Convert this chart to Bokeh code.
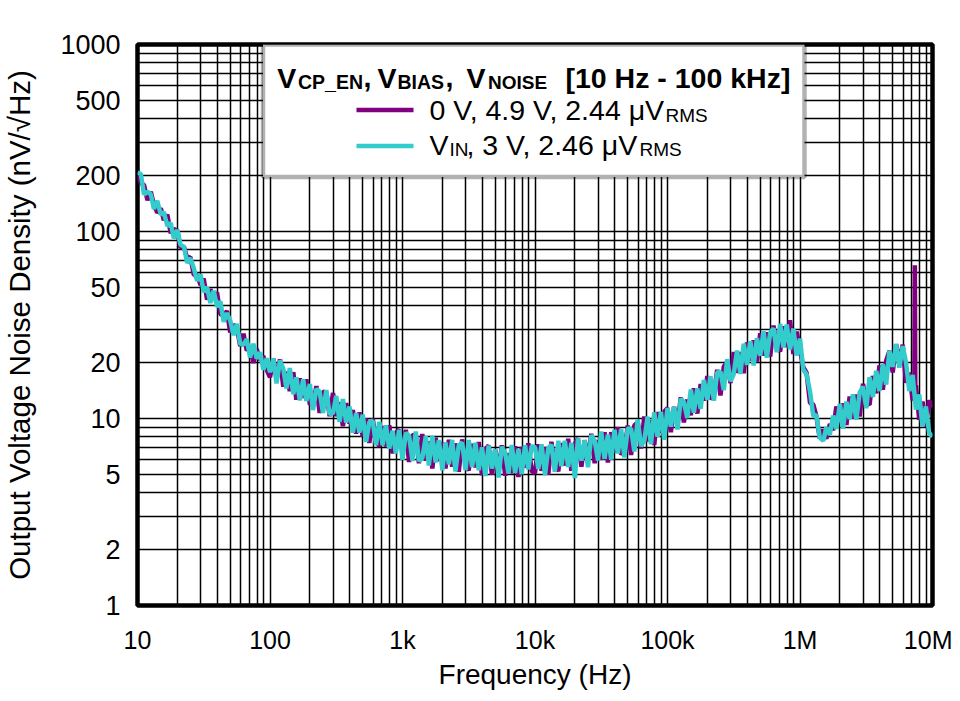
from bokeh.plotting import figure
from bokeh.models import Range1d, FixedTicker, Label, BoxAnnotation
from bokeh.embed import file_html
from bokeh.resources import INLINE

# ---------------- data ----------------
# frequency sample points (Hz), shared by both traces
freq = [
    10.0, 10.6, 11.2, 11.9, 12.6, 13.3, 14.1, 15.0, 15.8, 16.8, 17.8, 18.8, 20.0, 21.1, 22.4, 23.7, 25.1, 26.6, 28.2, 29.9,
    31.6, 33.5, 35.5, 37.6, 39.8, 42.2, 44.7, 47.3, 50.1, 53.1, 56.2, 59.6, 63.1, 66.8, 70.8, 75.0, 79.4, 84.1, 89.1, 94.4,
    100, 106, 112, 119, 126, 133, 141, 150, 158, 168, 178, 188, 200, 211, 224, 237, 251, 266, 282, 299,
    316, 335, 355, 376, 398, 422, 447, 473, 501, 531, 562, 596, 631, 668, 708, 750, 794, 841, 891, 944,
    1.00e3, 1.06e3, 1.12e3, 1.19e3, 1.26e3, 1.33e3, 1.41e3, 1.50e3, 1.58e3, 1.68e3, 1.78e3, 1.88e3, 2.00e3, 2.11e3, 2.24e3, 2.37e3, 2.51e3, 2.66e3, 2.82e3, 2.99e3,
    3.16e3, 3.35e3, 3.55e3, 3.76e3, 3.98e3, 4.22e3, 4.47e3, 4.73e3, 5.01e3, 5.31e3, 5.62e3, 5.96e3, 6.31e3, 6.68e3, 7.08e3, 7.50e3, 7.94e3, 8.41e3, 8.91e3, 9.44e3,
    1.00e4, 1.06e4, 1.12e4, 1.19e4, 1.26e4, 1.33e4, 1.41e4, 1.50e4, 1.58e4, 1.68e4, 1.78e4, 1.88e4, 2.00e4, 2.11e4, 2.24e4, 2.37e4, 2.51e4, 2.66e4, 2.82e4, 2.99e4,
    3.16e4, 3.35e4, 3.55e4, 3.76e4, 3.98e4, 4.22e4, 4.47e4, 4.73e4, 5.01e4, 5.31e4, 5.62e4, 5.96e4, 6.31e4, 6.68e4, 7.08e4, 7.50e4, 7.94e4, 8.41e4, 8.91e4, 9.44e4,
    1.00e5, 1.06e5, 1.12e5, 1.19e5, 1.26e5, 1.33e5, 1.41e5, 1.50e5, 1.58e5, 1.68e5, 1.78e5, 1.88e5, 2.00e5, 2.11e5, 2.24e5, 2.37e5, 2.51e5, 2.66e5, 2.82e5, 2.99e5,
    3.16e5, 3.35e5, 3.55e5, 3.76e5, 3.98e5, 4.22e5, 4.47e5, 4.73e5, 5.01e5, 5.31e5, 5.62e5, 5.96e5, 6.31e5, 6.68e5, 7.08e5, 7.50e5, 7.94e5, 8.41e5, 8.91e5, 9.44e5,
    1.00e6, 1.06e6, 1.12e6, 1.19e6, 1.26e6, 1.33e6, 1.41e6, 1.50e6, 1.58e6, 1.68e6, 1.78e6, 1.88e6, 2.00e6, 2.11e6, 2.24e6, 2.37e6, 2.51e6, 2.66e6, 2.82e6, 2.99e6,
    3.16e6, 3.35e6, 3.55e6, 3.76e6, 3.98e6, 4.22e6, 4.47e6, 4.73e6, 5.01e6, 5.31e6, 5.62e6, 5.96e6, 6.31e6, 6.68e6, 7.08e6, 7.50e6, 7.94e6, 8.41e6, 8.91e6, 9.44e6,
    1.00e7,
]

# Trace A: V_CP_EN = 0 V, V_BIAS = 4.9 V (purple), nV/rtHz
noise_a = [
    200, 182, 177, 147, 163, 139, 126, 133, 115, 123, 98, 103, 101, 82, 83, 72, 73, 58.6, 58.6, 51.8,
    56, 43.2, 49.2, 43.4, 47.3, 36.2, 35.4, 37.6, 28.9, 31.8, 30.5, 24.4, 28.4, 23.1, 24.2, 19.8, 23.6, 20.5, 21.6, 18.2,
    16.6, 20.9, 16.4, 20.7, 14.8, 17.8, 14.0, 17.7, 12.6, 16.4, 12.9, 16.2, 11.9, 11.9, 14.9, 10.7, 13.9, 13.8, 10.3, 13.7,
    10.3, 12.2, 9.1, 12.1, 9.4, 11.1, 8.3, 10.8, 8.0, 10.0, 7.4, 10.0, 7.6, 7.1, 9.1, 7.1, 9.2, 6.5, 8.4, 8.7,
    6.51, 8.70, 5.85, 8.15, 8.19, 5.77, 8.27, 5.95, 7.55, 5.41, 7.88, 5.92, 7.47, 5.41, 7.70, 5.52, 7.36, 5.19, 7.73, 5.71,
    5.27, 7.33, 5.47, 7.49, 4.97, 6.83, 7.17, 5.00, 6.85, 5.23, 7.19, 4.94, 6.53, 5.09, 7.11, 4.87, 7.04, 5.45, 7.37, 5.22,
    5.11, 7.29, 5.25, 7.04, 5.01, 7.51, 5.61, 5.23, 7.39, 5.60, 7.79, 5.25, 7.33, 7.82, 5.52, 7.66, 5.95, 8.29, 5.77, 7.67,
    6.01, 8.43, 5.81, 8.45, 6.59, 8.99, 6.43, 6.68, 9.17, 6.38, 9.17, 9.52, 6.92, 10.24, 7.55, 9.82, 7.22, 10.82, 8.37, 10.87,
    11.37, 8.44, 11.54, 9.37, 12.98, 9.53, 12.64, 10.41, 14.5, 10.62, 15.28, 12.47, 16.87, 12.69, 13.38, 18.21, 13.28, 18.93, 20.06, 15.46,
    22.66, 17.51, 22.66, 17.47, 25.52, 20.43, 26.21, 20.16, 28.54, 21.67, 28.9, 21.48, 31.39, 24.21, 22.85, 31.12, 24.11, 33.5, 22.14, 29.15,
    23.25, 18.8, 17.6, 12.1, 11.87, 10.27, 7.82, 8.72, 7.8, 9.35, 8.65, 11.6, 9.45, 12.04, 9.24, 13.11, 9.98, 13.44, 10.25, 15.34,
    12.15, 11.84, 16.87, 13.64, 19.23, 14.27, 20.35, 22.97, 17.64, 24.98, 20.06, 24.78, 15.54, 17.6, 12.47, 15.08, 9.84, 12.31, 9.0, 12.5,
    11.5,
]
# narrow spur on trace A near 7.4 MHz
spur_freq = [7.30e6, 7.36e6, 7.42e6]
spur_noise = [15.5, 66.0, 14.5]

# Trace B: V_CP_EN = V_IN, V_BIAS = 3 V (cyan), nV/rtHz
noise_b = [
    207, 203, 158, 163, 158, 132, 146, 123, 127, 107, 111, 92, 102, 85, 83, 68, 72, 63.6, 54.5, 58.9,
    47.4, 50.5, 41.5, 48.3, 39.6, 42.3, 32.9, 36.6, 33.4, 27.9, 32.1, 25.1, 24.8, 26.6, 21.2, 25.1, 20.9, 22.6, 18.2, 21.0,
    17.7, 20.9, 15.4, 20.4, 18.5, 14.5, 18.6, 13.5, 16.6, 12.5, 16.2, 12.4, 15.3, 11.1, 14.4, 13.9, 10.7, 14.2, 10.5, 10.7,
    13.2, 9.6, 12.7, 9.5, 11.6, 8.4, 10.7, 8.4, 10.5, 7.5, 9.6, 9.7, 7.2, 9.6, 7.2, 9.2, 6.9, 8.6, 6.5, 8.7,
    6.02, 8.38, 8.10, 5.93, 8.51, 5.92, 6.14, 8.06, 5.60, 8.09, 5.82, 7.67, 5.29, 7.44, 5.69, 7.67, 5.21, 7.18, 7.44, 5.29,
    7.67, 5.51, 7.41, 5.29, 7.02, 4.93, 7.17, 5.40, 6.85, 4.83, 7.06, 6.53, 5.08, 7.21, 5.12, 6.87, 5.03, 7.20, 5.34, 7.12,
    7.02, 5.38, 7.29, 4.99, 6.94, 7.24, 5.19, 7.61, 5.56, 7.59, 5.50, 7.41, 4.80, 7.82, 5.96, 7.66, 5.49, 8.14, 7.62, 5.96,
    8.51, 6.07, 8.21, 6.03, 8.70, 6.51, 8.77, 6.18, 8.83, 8.82, 6.67, 9.88, 7.11, 7.61, 10.23, 7.29, 10.78, 7.99, 10.85, 7.70,
    11.37, 9.05, 11.54, 8.73, 12.76, 12.26, 10.06, 14.28, 10.75, 14.5, 11.26, 16.07, 12.58, 16.82, 12.46, 17.58, 17.82, 14.2, 20.77, 15.82,
    17.28, 23.08, 17.3, 25.13, 19.36, 25.88, 19.19, 26.88, 21.65, 29.23, 21.16, 28.82, 30.32, 22.6, 32.1, 24.02, 31.78, 23.39, 30.24, 21.73,
    26.75, 18.2, 17.28, 13.97, 10.3, 10.46, 7.9, 7.6, 8.96, 8.19, 10.36, 8.8, 11.97, 8.82, 12.32, 9.94, 13.46, 9.84, 13.75, 14.82,
    11.34, 16.64, 13.02, 17.98, 14.02, 19.49, 15.17, 22.97, 18.9, 24.98, 18.7, 24.36, 19.98, 14.02, 17.11, 11.18, 13.44, 9.07, 11.6, 8.36,
    8.0,
]

x_ticks = [10, 100, 1000, 10000, 100000, 1000000, 10000000]
x_tick_labels = ["10", "100", "1k", "10k", "100k", "1M", "10M"]
y_ticks = [1, 2, 5, 10, 20, 50, 100, 200, 500, 1000]
y_tick_labels = ["1", "2", "5", "10", "20", "50", "100", "200", "500", "1000"]
x_minor = [m * 10 ** d for d in range(1, 7) for m in range(2, 10)]
y_minor = [m * 10 ** d for d in range(0, 3) for m in (3, 4, 6, 7, 8, 9)]

x_title = "Frequency (Hz)"
y_title = "Output Voltage Noise Density (nV/\u221aHz)"

PURPLE = "#800080"
CYAN = "#33CCCC"
FONT = "Liberation Sans"

# trace A with its spur merged in frequency order
pts_a = sorted(list(zip(freq, noise_a)) + list(zip(spur_freq, spur_noise)))
freq_a = [f for f, _ in pts_a]
vals_a = [v for _, v in pts_a]

# ---------------- figure ----------------
FRAME_L, FRAME_T, FRAME_W, FRAME_H = 137, 45, 795, 561
p = figure(
    x_axis_type="log", y_axis_type="log",
    x_range=Range1d(10, 1e7), y_range=Range1d(1, 1000),
    frame_width=FRAME_W, frame_height=FRAME_H,
    min_border_left=FRAME_L - 8, min_border_top=FRAME_T - 1,
    min_border_right=20, min_border_bottom=79,
    output_backend="svg", toolbar_location=None,
    background_fill_color="white", border_fill_color="white",
)
p.outline_line_color = "black"
p.outline_line_width = 4.5

p.xaxis.ticker = FixedTicker(ticks=x_ticks, minor_ticks=x_minor)
p.yaxis.ticker = FixedTicker(ticks=y_ticks, minor_ticks=y_minor)
p.xaxis.major_label_overrides = {v: s for v, s in zip(x_ticks, x_tick_labels)}
p.yaxis.major_label_overrides = {v: s for v, s in zip(y_ticks, y_tick_labels)}

for ax in (p.xaxis, p.yaxis):
    ax.axis_line_color = None
    ax.major_tick_line_color = None
    ax.minor_tick_line_color = None
    ax.major_label_text_font = FONT
    ax.major_label_text_color = "black"
    ax.axis_label_text_font = FONT
    ax.axis_label_text_font_style = "normal"
    ax.axis_label_text_color = "black"

p.xaxis.major_label_text_font_size = "25px"
p.yaxis.major_label_text_font_size = "27px"
p.xaxis.major_label_standoff = 14
p.yaxis.major_label_standoff = 11
p.xaxis.axis_label = x_title
p.yaxis.axis_label = y_title
p.xaxis.axis_label_text_font_size = "28px"
p.yaxis.axis_label_text_font_size = "29.5px"
p.xaxis.axis_label_standoff = 2
p.yaxis.axis_label_standoff = 21

for g in (p.xgrid, p.ygrid):
    g.grid_line_color = "black"
    g.grid_line_width = 1.5
    g.minor_grid_line_color = "black"
    g.minor_grid_line_width = 1.5

p.line(freq_a, vals_a, line_color=PURPLE, line_width=4.5)
p.line(freq, noise_b, line_color=CYAN, line_width=4.5)

# ---------------- custom legend (screen units, frame relative) ----------------
def fx(px):
    return px - FRAME_L

def fy(py):
    return FRAME_T + FRAME_H - py

p.add_layout(BoxAnnotation(
    left=fx(262.5), right=fx(804), top=fy(FRAME_T), bottom=fy(177.5),
    left_units="screen", right_units="screen", top_units="screen", bottom_units="screen",
    fill_color="white", fill_alpha=1.0, line_color="black", line_width=4.5,
))
for col, yy in ((PURPLE, 110.5), (CYAN, 146.5)):
    p.add_layout(BoxAnnotation(
        left=fx(356), right=fx(413), top=fy(yy - 2.3), bottom=fy(yy + 2.3),
        left_units="screen", right_units="screen", top_units="screen", bottom_units="screen",
        fill_color=col, fill_alpha=1.0, line_color=None,
    ))

LABEL_DY = 12  # label anchor correction

def txt(s, px, py, size, bold=False):
    p.add_layout(Label(
        x=fx(px), y=fy(py - LABEL_DY), x_units="screen", y_units="screen", text=s,
        text_font=FONT, text_font_size=size, text_font_style="bold" if bold else "normal",
        text_color="black", text_align="left", text_baseline="alphabetic",
    ))

T, S = "28.5px", "19.5px"
txt("V", 276.7, 90, T, True)
txt("CP_EN", 297.5, 94.5, S, True)
txt(",", 363, 90, T, True)
txt("V", 377, 90, T, True)
txt("BIAS", 397, 94.5, S, True)
txt(",", 445, 90, T, True)
txt("V", 466, 90, T, True)
txt("NOISE", 487.5, 94.5, "19px", True)
txt("[10 Hz - 100 kHz]", 565, 90, T, True)

E, ES = "28.5px", "19px"
txt("0 V, 4.9 V, 2.44 \u03bcV", 429, 122.5, E)
txt("RMS", 665, 127.5, ES)
txt("V", 429, 157.5, E)
txt("IN", 449, 161.5, ES)
txt(", 3 V, 2.46 \u03bcV", 466, 157.5, E)
txt("RMS", 639, 161.5, ES)

open("out.html", "w").write(file_html(p, INLINE))
